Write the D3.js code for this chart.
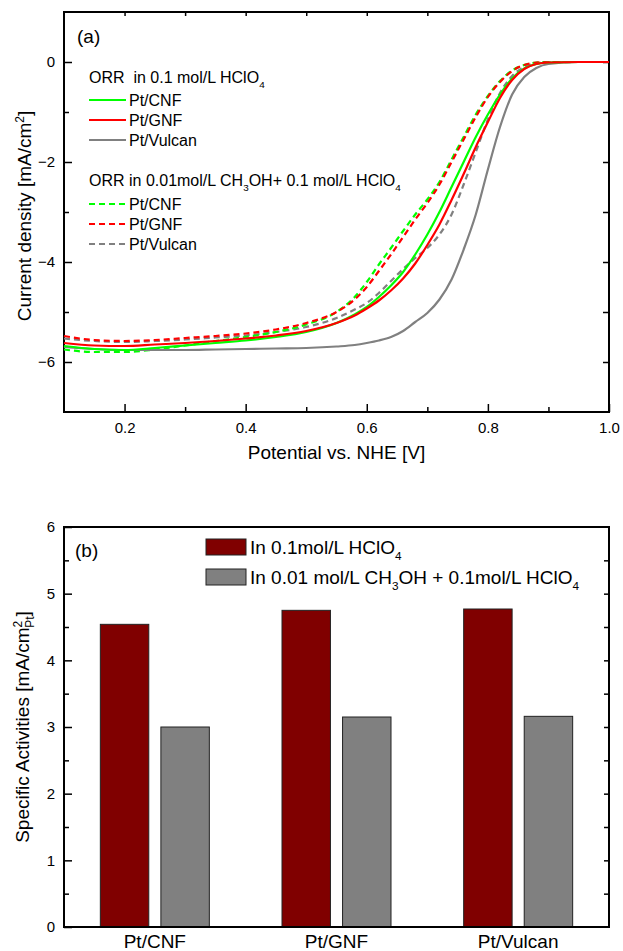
<!DOCTYPE html>
<html>
<head>
<meta charset="utf-8">
<script src="https://cdn.jsdelivr.net/npm/d3@7"></script>
<style>
  body { margin: 0; background: #fff; }
  svg { font-family: "Liberation Sans", Arial, sans-serif; }
  text { white-space: pre; }
</style>
</head>
<body>
<div id="chart"></div>
<script>
// (a) ORR polarization curves
var potential = [0.10, 0.15, 0.20, 0.25, 0.30, 0.35, 0.40, 0.45, 0.50, 0.55, 0.58, 0.60, 0.62, 0.64, 0.66,
  0.68, 0.70, 0.72, 0.74, 0.76, 0.78, 0.80, 0.82, 0.84, 0.86, 0.88, 0.90, 0.95, 1.00];
var cnfAcid = [-5.68, -5.74, -5.76, -5.72, -5.67, -5.62, -5.57, -5.50, -5.40, -5.22, -5.05, -4.90, -4.70, -4.47, -4.20,
  -3.85, -3.45, -3.00, -2.50, -2.00, -1.50, -1.05, -0.65, -0.33, -0.13, -0.04, -0.01, 0, 0];
var gnfAcid = [-5.62, -5.67, -5.68, -5.65, -5.62, -5.58, -5.53, -5.47, -5.38, -5.22, -5.07, -4.93, -4.77, -4.57, -4.33,
  -4.03, -3.66, -3.25, -2.76, -2.24, -1.70, -1.20, -0.72, -0.36, -0.14, -0.04, -0.01, 0, 0];
var vulcanAcid = [-5.70, -5.74, -5.76, -5.76, -5.76, -5.75, -5.74, -5.73, -5.72, -5.69, -5.66, -5.62, -5.57, -5.50, -5.38,
  -5.20, -5.02, -4.75, -4.35, -3.75, -3.05, -2.15, -1.30, -0.65, -0.30, -0.12, -0.04, 0, 0];
var cnfMeoh = [-5.75, -5.80, -5.80, -5.75, -5.67, -5.58, -5.50, -5.40, -5.25, -5.00, -4.70, -4.40, -4.05, -3.72, -3.38,
  -3.05, -2.75, -2.40, -1.95, -1.50, -1.05, -0.68, -0.38, -0.17, -0.06, -0.01, 0, 0, 0];
var gnfMeoh = [-5.48, -5.56, -5.58, -5.56, -5.52, -5.48, -5.43, -5.35, -5.22, -5.00, -4.75, -4.50, -4.18, -3.85, -3.50,
  -3.15, -2.82, -2.45, -2.00, -1.55, -1.10, -0.70, -0.40, -0.18, -0.06, -0.01, 0, 0, 0];
var vulcanMeoh = [-5.53, -5.58, -5.60, -5.58, -5.55, -5.51, -5.47, -5.40, -5.30, -5.12, -4.95, -4.82, -4.62, -4.38, -4.14,
  -3.92, -3.72, -3.45, -3.05, -2.45, -1.80, -1.15, -0.62, -0.28, -0.10, -0.03, -0.01, 0, 0];

// (b) specific activities
var catalysts = ["Pt/CNF", "Pt/GNF", "Pt/Vulcan"];
var activityAcid = [4.54, 4.75, 4.77];
var activityMeoh = [3.00, 3.15, 3.16];

var curveNames = ["Pt/CNF", "Pt/GNF", "Pt/Vulcan"];
var curveColors = ["#00ff00", "#ff0000", "#808080"];

var fullW = 623, fullH = 951;
var svg = d3.select("#chart").append("svg")
  .attr("width", fullW)
  .attr("height", fullH);

var left = 64, width = 545, height = 400;

// ---------- panel (a) ----------
var ga = svg.append("g").attr("transform", "translate(" + left + ",12)");

var x = d3.scaleLinear().domain([0.1, 1.0]).range([0, width]);
var y = d3.scaleLinear().domain([-7, 1]).range([height, 0]);

// minor ticks first, then major ticks with labels
ga.append("g")
  .attr("transform", "translate(0," + height + ")")
  .call(d3.axisBottom(x).tickValues([0.3, 0.5, 0.7, 0.9]).tickSize(-5).tickFormat(""));
ga.append("g")
  .attr("transform", "translate(0," + height + ")")
  .call(d3.axisBottom(x).tickValues([0.2, 0.4, 0.6, 0.8, 1.0]).tickSize(-8).tickPadding(10).tickFormat(d3.format(".1f")));
ga.append("g")
  .call(d3.axisLeft(y).tickValues([-5, -3, -1]).tickSize(-5).tickFormat(""));
ga.append("g")
  .call(d3.axisLeft(y).tickValues([-6, -4, -2, 0]).tickSize(-8).tickPadding(9).tickFormat(d3.format("d")));
ga.append("g")
  .attr("transform", "translate(" + width + ",0)")
  .call(d3.axisRight(y).tickValues([-6, -5, -4, -3, -2, -1, 0]).tickSize(-6).tickFormat(""));
ga.append("g")
  .call(d3.axisTop(x).tickValues([0.2, 0.3, 0.4, 0.5, 0.6, 0.7, 0.8, 0.9]).tickSize(-4).tickFormat(""));

ga.append("rect")
  .attr("width", width).attr("height", height)
  .attr("fill", "none").attr("stroke", "#000").attr("stroke-width", 2);

var line = d3.line()
  .x(function(d) { return x(d[0]); })
  .y(function(d) { return y(d[1]); })
  .curve(d3.curveMonotoneX);

var acidSets = [cnfAcid, gnfAcid, vulcanAcid];
var meohSets = [cnfMeoh, gnfMeoh, vulcanMeoh];

[2, 0, 1].forEach(function(i) {
  ga.append("path")
    .datum(d3.zip(potential, meohSets[i]))
    .attr("fill", "none")
    .attr("stroke", curveColors[i])
    .attr("stroke-width", 2.2)
    .attr("stroke-dasharray", "6,4")
    .attr("d", line);
});
[2, 0, 1].forEach(function(i) {
  ga.append("path")
    .datum(d3.zip(potential, acidSets[i]))
    .attr("fill", "none")
    .attr("stroke", curveColors[i])
    .attr("stroke-width", 2.2)
    .attr("d", line);
});

ga.append("text").attr("x", 13).attr("y", 31).style("font-size", "19px").text("(a)");

// legend (a)
function richText(g, tx, ty, size, parts) {
  var t = g.append("text").attr("x", tx).attr("y", ty).style("font-size", size + "px");
  parts.forEach(function(p) {
    var s = t.append("tspan").text(p[0]);
    if (p[1] == "sub") s.attr("dy", size * 0.3).style("font-size", (size * 0.62) + "px");
    if (p[1] == "back") s.attr("dy", -size * 0.3);
  });
}
richText(ga, 25, 71, 16, [["ORR  in 0.1 mol/L HClO"], ["4", "sub"]]);
richText(ga, 25, 174, 16, [["ORR in 0.01mol/L CH"], ["3", "sub"], ["OH+ 0.1 mol/L HClO", "back"], ["4", "sub"]]);

curveNames.forEach(function(n, i) {
  [0, 1].forEach(function(k) {
    var ly = (k == 0 ? 88 : 192) + i * 20;
    ga.append("line")
      .attr("x1", 25).attr("x2", 62).attr("y1", ly).attr("y2", ly)
      .attr("stroke", curveColors[i]).attr("stroke-width", 2.2)
      .attr("stroke-dasharray", k == 0 ? null : "6,4");
    ga.append("text").attr("x", 65).attr("y", ly + 6).style("font-size", "16px").text(n);
  });
});

// axis titles (a)
var yt = svg.append("text")
  .attr("transform", "translate(31,216) rotate(-90)")
  .attr("text-anchor", "middle")
  .style("font-size", "19px");
yt.append("tspan").text("Current density [mA/cm");
yt.append("tspan").attr("dy", -7).style("font-size", "12px").text("2");
yt.append("tspan").attr("dy", 7).text("]");

svg.append("text")
  .attr("x", left + width / 2).attr("y", 459)
  .attr("text-anchor", "middle")
  .style("font-size", "19px")
  .text("Potential vs. NHE [V]");

// ---------- panel (b) ----------
var gb = svg.append("g").attr("transform", "translate(" + left + ",527)");

var x0 = d3.scaleBand().domain(catalysts).range([0, width]).paddingInner(0.4).paddingOuter(0.2);
var x1 = d3.scaleBand().domain(["acid", "meoh"]).range([0, x0.bandwidth()]).paddingInner(0.2);
var yb = d3.scaleLinear().domain([0, 6]).range([height, 0]);

gb.append("g")
  .call(d3.axisLeft(yb).tickValues([0.5, 1.5, 2.5, 3.5, 4.5, 5.5]).tickSize(-5).tickFormat(""));
gb.append("g")
  .call(d3.axisLeft(yb).tickValues([0, 1, 2, 3, 4, 5, 6]).tickSize(-8).tickPadding(9).tickFormat(d3.format("d")));
gb.append("g")
  .attr("transform", "translate(" + width + ",0)")
  .call(d3.axisRight(yb).tickValues([0.5, 1, 1.5, 2, 2.5, 3, 3.5, 4, 4.5, 5, 5.5]).tickSize(-5).tickFormat(""));

var barData = catalysts.map(function(c, i) {
  return { cat: c, vals: [{ k: "acid", v: activityAcid[i] }, { k: "meoh", v: activityMeoh[i] }] };
});
var barColor = { acid: "#800000", meoh: "#808080" };

gb.selectAll(".grp")
  .data(barData)
  .enter().append("g")
  .attr("class", "grp")
  .attr("transform", function(d) { return "translate(" + x0(d.cat) + ",0)"; })
  .selectAll("rect")
  .data(function(d) { return d.vals; })
  .enter().append("rect")
  .attr("x", function(d) { return x1(d.k); })
  .attr("y", function(d) { return yb(d.v); })
  .attr("width", x1.bandwidth())
  .attr("height", function(d) { return height - yb(d.v); })
  .attr("fill", function(d) { return barColor[d.k]; })
  .attr("stroke", "#222")
  .attr("stroke-width", 1);

gb.append("rect")
  .attr("width", width).attr("height", height)
  .attr("fill", "none").attr("stroke", "#000").attr("stroke-width", 2);

gb.selectAll(".cat")
  .data(catalysts)
  .enter().append("text")
  .attr("class", "cat")
  .attr("x", function(d) { return x0(d) + x0.bandwidth() / 2; })
  .attr("y", height + 21)
  .attr("text-anchor", "middle")
  .style("font-size", "19px")
  .text(function(d) { return d; });

gb.append("text").attr("x", 11).attr("y", 30).style("font-size", "19px").text("(b)");

// legend (b)
var legB = [
  { k: "acid", parts: [["In 0.1mol/L HClO"], ["4", "sub"]] },
  { k: "meoh", parts: [["In 0.01 mol/L CH"], ["3", "sub"], ["OH + 0.1mol/L HClO", "back"], ["4", "sub"]] }
];
legB.forEach(function(L, i) {
  var ly = 20 + i * 30;
  gb.append("rect")
    .attr("x", 142).attr("y", ly - 8).attr("width", 40).attr("height", 16)
    .attr("fill", barColor[L.k]).attr("stroke", "#222").attr("stroke-width", 1);
  richText(gb, 186, ly + 7, 19, L.parts);
});

var ybt = svg.append("text")
  .attr("transform", "translate(29,727) rotate(-90)")
  .attr("text-anchor", "middle")
  .style("font-size", "19px");
ybt.append("tspan").text("Specific Activities [mA/cm");
ybt.append("tspan").attr("dy", -7).style("font-size", "12px").text("2");
ybt.append("tspan").attr("dx", -7).attr("dy", 12).style("font-size", "12px").text("Pt");
ybt.append("tspan").attr("dy", -5).text("]");

svg.selectAll(".domain").remove();
svg.selectAll(".tick line").attr("stroke", "#000").attr("stroke-width", 1.5);
svg.selectAll(".tick text").style("font-size", "15px").attr("fill", "#000");
</script>
</body>
</html>
